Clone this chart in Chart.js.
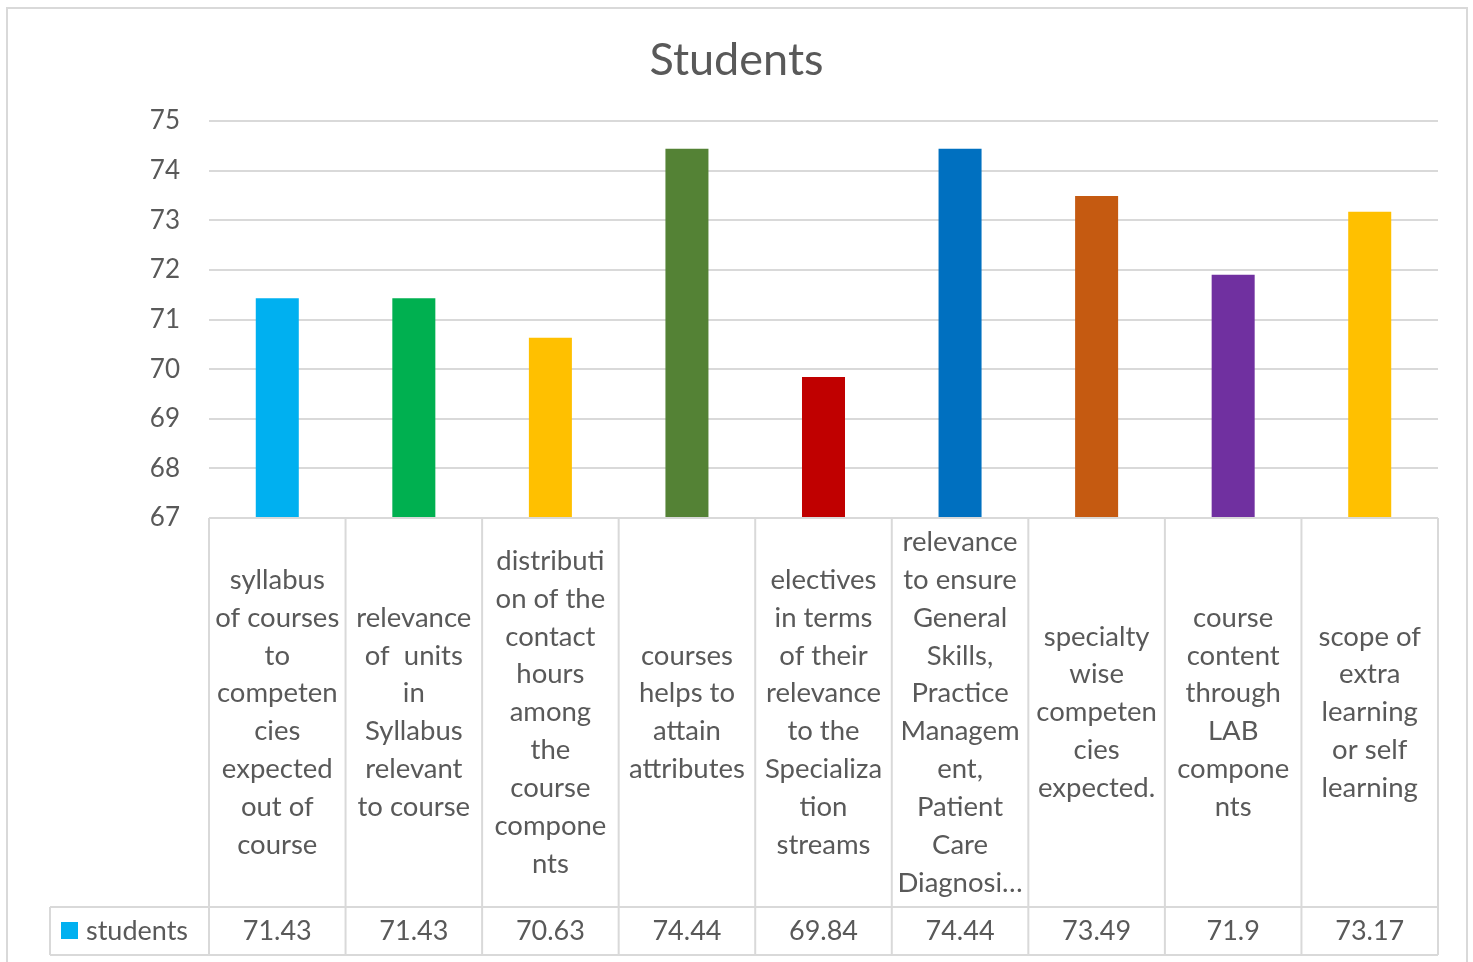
<!DOCTYPE html>
<html>
<head>
<meta charset="utf-8">
<script src="https://cdn.jsdelivr.net/npm/chart.js@4"></script>
<style>
html,body{margin:0;padding:0;background:#fff;overflow:hidden;}
canvas{display:block;}
</style>
</head>
<body>
<canvas id="c" width="1473" height="962"></canvas>
<script>
const seriesName = "students";
const categoryLines = [
  ["syllabus","of courses","to","competen","cies","expected","out of","course"],
  ["relevance","of  units","in","Syllabus","relevant","to course"],
  ["distributi","on of the","contact","hours","among","the","course","compone","nts"],
  ["courses","helps to","attain","attributes"],
  ["electives","in terms","of their","relevance","to the","Specializa","tion","streams"],
  ["relevance","to ensure","General","Skills,","Practice","Managem","ent,","Patient","Care","Diagnosi…"],
  ["specialty","wise","competen","cies","expected."],
  ["course","content","through","LAB","compone","nts"],
  ["scope of","extra","learning","or self","learning"]
];
const categories = categoryLines.map(l => l.join(" "));
const values = [71.43, 71.43, 70.63, 74.44, 69.84, 74.44, 73.49, 71.9, 73.17];
const valueLabels = ["71.43","71.43","70.63","74.44","69.84","74.44","73.49","71.9","73.17"];
const barColors = ["#00B0F0","#00B050","#FFC000","#548235","#C00000","#0070C0","#C55A11","#7030A0","#FFC000"];
const yMin = 67, yMax = 75, yStep = 1;

const FONT = "Lato, 'Open Sans', sans-serif";
const TEXT = "#595959";
const GRID = "#d9d9d9";

const tablePlugin = {
  id: "dataTable",
  beforeDraw(chart) {
    const ctx = chart.ctx;
    ctx.save();
    ctx.strokeStyle = GRID;
    ctx.lineWidth = 2;
    ctx.strokeRect(7, 8, 1460, 980);
    ctx.restore();
  },
  afterDraw(chart) {
    const ctx = chart.ctx;
    const x = chart.scales.x;
    const area = chart.chartArea;
    const top = area.bottom;
    const rowTop = 907, rowBottom = 955, legLeft = 50;
    const n = categories.length;
    const half = (x.getPixelForValue(1) - x.getPixelForValue(0)) / 2;
    ctx.save();
    ctx.strokeStyle = GRID;
    ctx.lineWidth = 2;
    ctx.beginPath();
    ctx.moveTo(area.left, top); ctx.lineTo(area.right, top);
    ctx.moveTo(legLeft, rowTop); ctx.lineTo(area.right, rowTop);
    ctx.moveTo(legLeft, rowBottom); ctx.lineTo(area.right, rowBottom);
    ctx.moveTo(legLeft, rowTop); ctx.lineTo(legLeft, rowBottom);
    for (let i = 0; i <= n; i++) {
      const px = i < n ? x.getPixelForValue(i) - half : x.getPixelForValue(n - 1) + half;
      ctx.moveTo(px, top); ctx.lineTo(px, rowBottom);
    }
    ctx.stroke();

    ctx.fillStyle = TEXT;
    ctx.font = "27.5px " + FONT;
    ctx.textAlign = "center";
    ctx.textBaseline = "middle";
    const lh = 37.9;
    const mid = (top + rowTop) / 2;
    categoryLines.forEach((lines, i) => {
      const cx = x.getPixelForValue(i);
      const y0 = mid - (lines.length - 1) * lh / 2;
      lines.forEach((t, j) => ctx.fillText(t, cx, y0 + j * lh));
    });
    const rowMid = (rowTop + rowBottom) / 2;
    ctx.font = "27px " + FONT;
    valueLabels.forEach((t, i) => ctx.fillText(t, x.getPixelForValue(i), rowMid));

    ctx.fillStyle = barColors[0];
    ctx.fillRect(61, 922, 17, 17);
    ctx.fillStyle = TEXT;
    ctx.textAlign = "left";
    ctx.fillText(seriesName, 86, rowMid);
    ctx.restore();
  }
};

new Chart(document.getElementById("c"), {
  type: "bar",
  data: {
    labels: categories,
    datasets: [{
      label: seriesName,
      data: values,
      backgroundColor: barColors,
      borderWidth: 0,
      barPercentage: 0.315,
      categoryPercentage: 1.0
    }]
  },
  options: {
    responsive: false,
    animation: false,
    devicePixelRatio: 1,
    layout: { padding: { left: 0, right: 0, top: 0, bottom: 0 } },
    plugins: {
      legend: { display: false },
      tooltip: { enabled: false },
      title: {
        display: true,
        text: "Students",
        color: TEXT,
        font: { family: FONT, size: 45, weight: "normal", lineHeight: 1.2 },
        padding: { top: 33, bottom: 34 }
      }
    },
    scales: {
      x: {
        ticks: { display: false },
        grid: { display: false },
        border: { display: false },
        afterFit(s) { s.height = 444; }
      },
      y: {
        min: yMin, max: yMax,
        ticks: { stepSize: yStep, color: TEXT, font: { family: FONT, size: 26 }, padding: 29 },
        grid: { color: GRID, lineWidth: 2, drawTicks: false },
        border: { display: false },
        afterFit(s) { s.width = 209; }
      },
      yRight: {
        position: "right",
        display: true,
        min: yMin, max: yMax,
        ticks: { display: false },
        grid: { display: false, drawTicks: false },
        border: { display: false },
        afterFit(s) { s.width = 35; }
      }
    }
  },
  plugins: [tablePlugin]
});
</script>
</body>
</html>
